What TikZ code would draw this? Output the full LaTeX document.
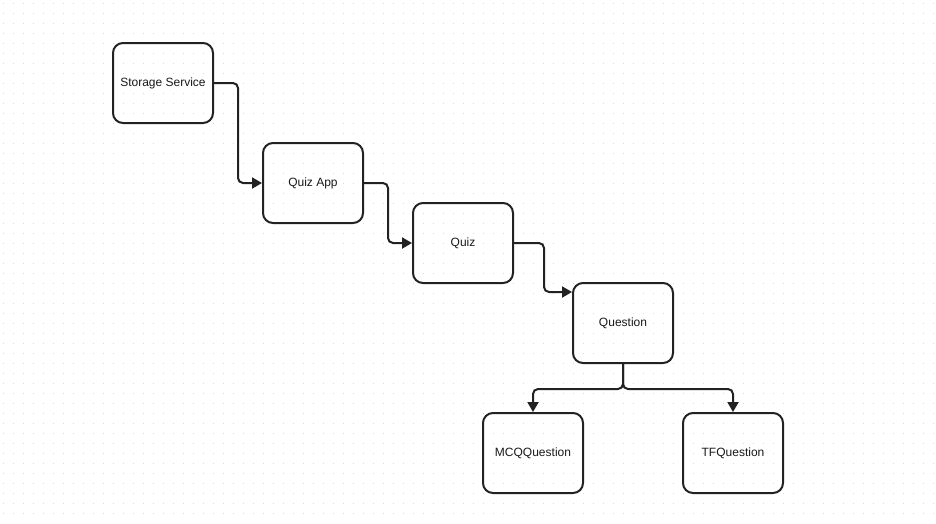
\documentclass[tikz,border=0pt]{standalone}
\usepackage{fontspec}
\setmainfont{Liberation Sans}
\usetikzlibrary{arrows.meta}
\definecolor{boxline}{HTML}{222222}
\definecolor{txt}{HTML}{1A1A1A}
\definecolor{griddot}{HTML}{D8D8D8}
\begin{document}
\begin{tikzpicture}[x=1pt,y=-1pt,
    box/.style={draw=boxline,line width=2pt,rounded corners=10pt,
      minimum width=100pt,minimum height=80pt,inner sep=0pt,
      font=\fontsize{12}{14}\selectfont,text=txt},
    link/.style={draw=boxline,line width=2pt,rounded corners=5pt,
      -{Triangle[length=10pt,width=11pt]}},
    dots/.style={draw=griddot,line width=1pt,dash pattern=on 1pt off 9pt}]
  % page and dotted grid
  \fill[white] (0,0) rectangle (936,523);
  \useasboundingbox (0,0) rectangle (936,523);
  \foreach \y in {3.5,13.5,...,523}
    \draw[dots] (3,\y) -- (936,\y);
  % boxes
  \draw
    (163,83) node[box] (storage){Storage Service}
    (313,183) node[box] (app){Quiz App}
    (463,243) node[box] (quiz){Quiz}
    (623,323) node[box] (question){Question}
    (533,453) node[box] (mcq){MCQQuestion}
    (733,453) node[box] (tf){TFQuestion};
  \begin{scope}
    \draw[link] (storage.east) -- ++(24,0) |- (app.west);
    \draw[link] (app.east) -- ++(24,0) |- (quiz.west);
    \draw[link] (quiz.east) -- ++(30,0) |- ([yshift=-10pt]question.north west);
    \draw[link] (question.south) -- ++(0,25) -| (mcq.north);
    \draw[link] (question.south) -- ++(0,25) -| (tf.north);
  \end{scope}
\end{tikzpicture}
\end{document}
